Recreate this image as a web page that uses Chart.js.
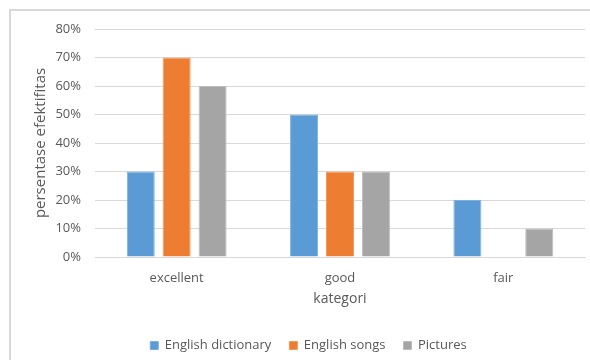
<!DOCTYPE html>
<html>
<head>
<meta charset="utf-8">
<script src="https://cdn.jsdelivr.net/npm/chart.js@4"></script>
<style>
html,body{margin:0;padding:0;background:#fff;overflow:hidden;}
#wrap{position:relative;width:590px;height:360px;}
#frame{position:absolute;left:9px;top:9px;width:700px;height:500px;border-left:2px solid #d9d9d9;border-top:2px solid #d9d9d9;}
canvas{position:absolute;left:0;top:0;}
</style>
</head>
<body>
<div id="wrap">
<div id="frame"></div>
<canvas id="c" width="590" height="360"></canvas>
</div>
<script>
const categories = ["excellent", "good", "fair"];
const englishDictionary = [30, 50, 20];
const englishSongs = [70, 30, 0];
const pictures = [60, 30, 10];
const seriesNames = ["English dictionary", "English songs", "Pictures"];
const yTicks = [0, 10, 20, 30, 40, 50, 60, 70, 80];

const colors = ["#5B9BD5", "#ED7D31", "#A5A5A5"];
const borders = ["#7EB0DE", "#F19A5E", "#BCBCBC"];
const font = "'Open Sans', 'Noto Sans', sans-serif";
const textColor = "#595959";

new Chart(document.getElementById("c"), {
  type: "bar",
  data: {
    labels: categories,
    datasets: [englishDictionary, englishSongs, pictures].map((d, i) => ({
      label: seriesNames[i],
      data: d,
      backgroundColor: colors[i],
      borderColor: borders[i],
      borderWidth: 1,
      categoryPercentage: 0.66,
      barPercentage: 0.78
    }))
  },
  options: {
    responsive: false,
    animation: false,
    devicePixelRatio: 1,
    layout: { padding: { left: 32, right: 5, top: 29, bottom: -2 } },
    plugins: {
      legend: {
        position: "bottom",
        labels: {
          font: { family: font, size: 13 },
          color: textColor,
          boxWidth: 8,
          boxHeight: 8,
          padding: 18
        }
      },
      tooltip: { enabled: false }
    },
    scales: {
      x: {
        afterFit: (s) => { s.height = 64; },
        grid: { display: false, drawTicks: false },
        border: { color: "#d9d9d9" },
        ticks: { font: { family: font, size: 13 }, color: textColor, padding: 13 },
        title: { display: true, text: "kategori", font: { family: font, size: 14 }, color: textColor, padding: { top: 0, bottom: 14 } }
      },
      y: {
        min: 0,
        max: 80,
        afterBuildTicks: (s) => { s.ticks = yTicks.map(v => ({ value: v })); },
        afterFit: (s) => { s.width = 63; },
        grid: { color: "#d9d9d9", drawTicks: false },
        border: { display: false },
        ticks: {
          font: { family: font, size: 13 },
          color: textColor,
          padding: 14,
          callback: (v) => v + "%"
        },
        title: { display: true, text: "persentase efektifitas", font: { family: font, size: 15 }, color: textColor, padding: 0 }
      }
    }
  }
});
</script>
</body>
</html>
